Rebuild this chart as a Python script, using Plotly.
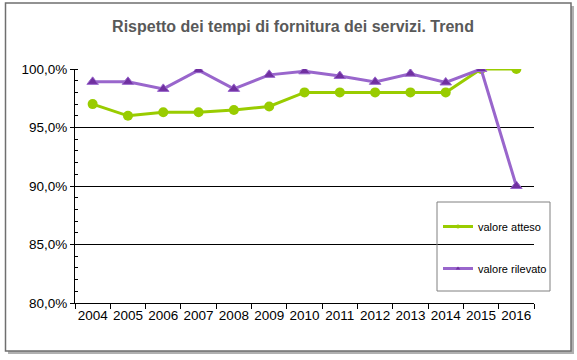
import plotly.graph_objects as go

years = ["2004", "2005", "2006", "2007", "2008", "2009", "2010",
         "2011", "2012", "2013", "2014", "2015", "2016"]
valore_atteso = [97.0, 96.0, 96.3, 96.3, 96.5, 96.8, 98.0, 98.0, 98.0, 98.0, 98.0, 100.0, 100.0]
valore_rilevato = [98.9, 98.9, 98.3, 99.9, 98.3, 99.5, 99.8, 99.4, 98.9, 99.6, 98.85, 100.0, 90.0]
y_tickvals = [80, 85, 90, 95, 100]
y_ticktext = ["80,0%", "85,0%", "90,0%", "95,0%", "100,0%"]
title_text = "Rispetto dei tempi di fornitura dei servizi. Trend"

W, H = 577, 360
FONT = "Liberation Sans, Arial, sans-serif"
GREEN = "#99cc00"
PURPLE_LINE = "#9966cc"
PURPLE_MARK = "#7030a0"

# plot area in pixels
L, R, T, B = 75, 534, 69, 303
PW, PH = R - L, B - T


def px_x(x):
    return (x - L) / PW


def px_y(y):
    return (B - y) / PH


fig = go.Figure()
fig.add_trace(go.Scatter(
    x=years, y=valore_atteso, name="valore atteso", mode="lines+markers",
    line=dict(color=GREEN, width=3),
    marker=dict(symbol="circle", size=10, color=GREEN),
    showlegend=False,
))
fig.add_trace(go.Scatter(
    x=years, y=valore_rilevato, name="valore rilevato", mode="lines+markers",
    line=dict(color=PURPLE_LINE, width=3),
    marker=dict(symbol="triangle-up", size=10, color=PURPLE_MARK,
                line=dict(color=PURPLE_LINE, width=1)),
    showlegend=False,
))
# legend entries (small markers like the original)
fig.add_trace(go.Scatter(
    x=[None], y=[None], name="valore atteso", mode="lines+markers",
    line=dict(color=GREEN, width=3), marker=dict(symbol="circle", size=4, color=GREEN),
    legendgroup="a",
))
fig.add_trace(go.Scatter(
    x=[None], y=[None], name="valore rilevato", mode="lines+markers",
    line=dict(color=PURPLE_LINE, width=3),
    marker=dict(symbol="triangle-up", size=4, color=PURPLE_MARK),
    legendgroup="b",
))

# frame + shadow
fig.add_shape(type="rect", xref="paper", yref="paper", layer="below",
              x0=px_x(8), x1=px_x(574), y0=px_y(354), y1=px_y(6),
              fillcolor="#b0b0b0", line=dict(width=0))
fig.add_shape(type="rect", xref="paper", yref="paper", layer="below",
              x0=px_x(5.5), x1=px_x(571), y0=px_y(351), y1=px_y(3),
              fillcolor="white", line=dict(color="#6f6f6f", width=1.5))
# legend box
fig.add_shape(type="rect", xref="paper", yref="paper", layer="above",
              x0=px_x(437), x1=px_x(550), y0=px_y(291), y1=px_y(202),
              fillcolor="rgba(0,0,0,0)", line=dict(color="#808080", width=1))

fig.update_layout(
    width=W, height=H,
    margin=dict(l=L, r=W - R, t=T, b=H - B, autoexpand=False),
    paper_bgcolor="white", plot_bgcolor="rgba(0,0,0,0)",
    font=dict(family=FONT, color="black", size=13),
    title=dict(text="<b>" + title_text + "</b>", x=293 / W, xanchor="center",
               y=1 - 26 / H, yanchor="middle", xref="container", yref="container",
               font=dict(size=16, color="#595959", family=FONT)),
    showlegend=True,
    legend=dict(xref="container", yref="container", x=438 / W, y=1 - 212 / H,
                xanchor="left", yanchor="top",
                bgcolor="rgba(0,0,0,0)", borderwidth=0,
                font=dict(size=11, family=FONT), tracegroupgap=23,
                itemwidth=30),
)
fig.update_xaxes(
    type="category", range=[-0.5, len(years) - 0.5],
    showline=True, linecolor="black", linewidth=1,
    ticks="outside", ticklen=5, tickcolor="black", tickson="boundaries",
    showgrid=False, tickfont=dict(size=13.5), tickangle=0, zeroline=False,
)
fig.update_yaxes(
    range=[80, 100], showline=True, linecolor="black", linewidth=1,
    tickvals=y_tickvals, ticktext=y_ticktext,
    ticks="outside", ticklen=4, tickcolor="black",
    showgrid=True, gridcolor="black", gridwidth=1, zeroline=False,
    minor=dict(dtick=1, ticks="inside", ticklen=3, tickcolor="black", showgrid=False),
    tickfont=dict(size=13.5),
)

fig.write_html("out.html", config={"displayModeBar": False},
               post_script="document.body.style.margin='0px';")
